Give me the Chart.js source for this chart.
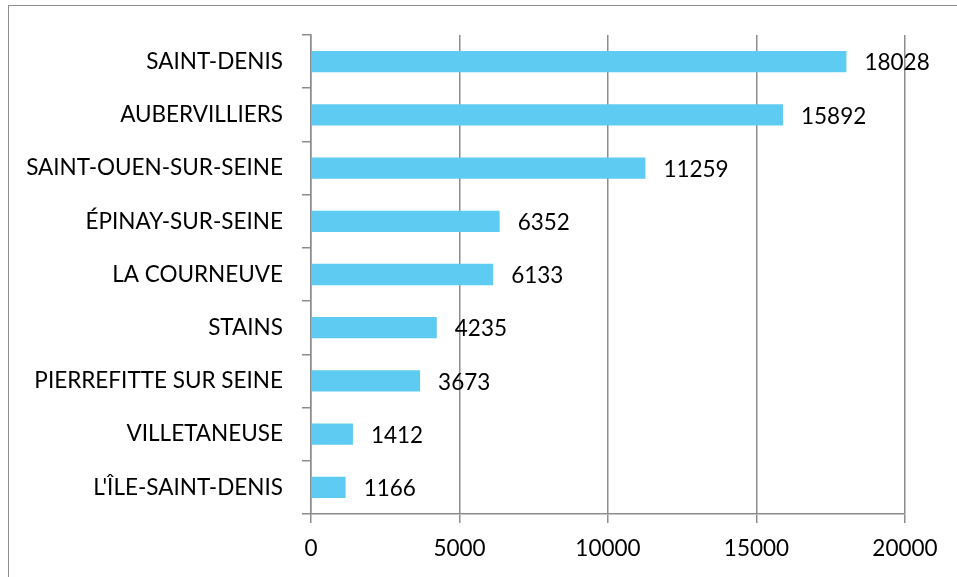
<!DOCTYPE html>
<html>
<head>
<meta charset="utf-8">
<script src="https://cdn.jsdelivr.net/npm/chart.js@4/dist/chart.umd.min.js"></script>
<style>
  html, body { margin: 0; padding: 0; background: #fff; overflow: hidden; }
  .frame {
    position: absolute; left: 8px; top: 5px; width: 1200px; height: 800px;
    border: 1.5px solid #8c8c8c; pointer-events: none;
  }
  canvas { position: absolute; left: 0; top: 0; }
</style>
</head>
<body>
<canvas id="communesChart" width="957" height="577"></canvas>
<div class="frame"></div>
<script>
// data
const communes = [
  'SAINT-DENIS',
  'AUBERVILLIERS',
  'SAINT-OUEN-SUR-SEINE',
  'ÉPINAY-SUR-SEINE',
  'LA COURNEUVE',
  'STAINS',
  'PIERREFITTE SUR SEINE',
  'VILLETANEUSE',
  "L'ÎLE-SAINT-DENIS",
]
const values = [18028, 15892, 11259, 6352, 6133, 4235, 3673, 1412, 1166]
const xTicks = [0, 5000, 10000, 15000, 20000]

const gridGray = '#8c8c8c'
const textFont = { family: 'Lato', size: 22.5 }

// value labels at the end of each bar
const barLabels = {
  id: 'barLabels',
  afterDatasetsDraw(chart) {
    const ctx = chart.ctx
    const meta = chart.getDatasetMeta(0)
    ctx.save()
    ctx.font = `${textFont.size}px ${textFont.family}`
    ctx.fillStyle = '#000'
    ctx.textAlign = 'left'
    ctx.textBaseline = 'middle'
    meta.data.forEach((bar, i) => {
      ctx.fillText(String(values[i]), bar.x + 18, bar.y + 1.5)
    })
    ctx.restore()
  },
}

const ctx = document.getElementById('communesChart').getContext('2d')
const communesChart = new Chart(ctx, {
  type: 'bar',
  data: {
    labels: communes,
    datasets: [
      {
        data: values,
        backgroundColor: '#5ecbf2',
        borderWidth: 0,
        barPercentage: 0.4,
        categoryPercentage: 1,
      },
    ],
  },
  options: {
    indexAxis: 'y',
    responsive: false,
    animation: false,
    layout: { padding: { top: 35, right: 52, bottom: 0, left: 0 } },
    plugins: {
      legend: { display: false },
      tooltip: { enabled: false },
    },
    scales: {
      x: {
        min: 0,
        max: 20000,
        afterBuildTicks: (scale) => {
          scale.ticks = xTicks.map((v) => ({ value: v }))
        },
        afterFit: (scale) => { scale.height = 63 },
        grid: {
          color: gridGray,
          lineWidth: 1.5,
          tickLength: 9,
          drawTicks: true,
        },
        border: { color: gridGray, width: 1.5 },
        ticks: {
          color: '#000',
          font: textFont,
          padding: 12,
          maxRotation: 0,
          callback: (v) => String(v),
        },
      },
      y: {
        afterFit: (scale) => { scale.width = 311 },
        grid: {
          drawOnChartArea: false,
          color: gridGray,
          lineWidth: 1.5,
          tickLength: 9,
          offset: true,
        },
        border: { color: gridGray, width: 1.5 },
        ticks: {
          color: '#000',
          font: textFont,
          padding: 19,
          autoSkip: false,
        },
      },
    },
  },
  plugins: [barLabels],
})
</script>
</body>
</html>
